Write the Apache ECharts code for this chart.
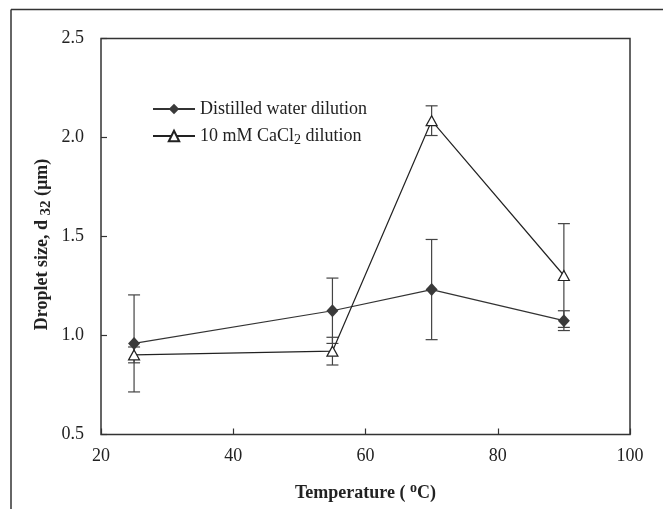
<!DOCTYPE html>
<html>
<head>
<meta charset="utf-8">
<script src="https://cdn.jsdelivr.net/npm/echarts@6/dist/echarts.min.js"></script>
<style>html,body{margin:0;padding:0;background:#fff}#c{width:663px;height:509px}</style>
</head>
<body>
<div id="c"></div>
<script>
var temperatures = [25, 55, 70, 90];
var distilledValues = [0.96, 1.125, 1.232, 1.075];
var distilledErrors = [0.245, 0.165, 0.253, 0.05];
var cacl2Values = [0.902, 0.921, 2.085, 1.303];
var cacl2Errors = [0.04, 0.07, 0.075, 0.262];
var xTicks = [20, 40, 60, 80, 100];
var yTicks = [0.5, 1.0, 1.5, 2.0, 2.5];
var seriesNames = ['Distilled water dilution', '10 mM CaCl2 dilution'];

var FONT = 'Liberation Serif';
var chart = echarts.init(document.getElementById('c'));

function pairs(xs, ys) { return xs.map(function (x, i) { return [x, ys[i]]; }); }
function errData(xs, ys, es) { return xs.map(function (x, i) { return [x, ys[i] - es[i], ys[i] + es[i]]; }); }

function errRender(params, api) {
  var x = api.value(0);
  var lo = api.coord([x, api.value(1)]);
  var hi = api.coord([x, api.value(2)]);
  var hw = 6;
  var st = { stroke: '#444', lineWidth: 1.2 };
  return {
    type: 'group',
    children: [
      { type: 'line', shape: { x1: lo[0], y1: lo[1], x2: hi[0], y2: hi[1] }, style: st },
      { type: 'line', shape: { x1: lo[0] - hw, y1: lo[1], x2: lo[0] + hw, y2: lo[1] }, style: st },
      { type: 'line', shape: { x1: hi[0] - hw, y1: hi[1], x2: hi[0] + hw, y2: hi[1] }, style: st }
    ]
  };
}

chart.setOption({
  animation: false,
  backgroundColor: '#fff',
  graphic: [
    { type: 'line', shape: { x1: 11, y1: 9.5, x2: 663, y2: 9.5 }, style: { stroke: '#333', lineWidth: 1.5 } },
    { type: 'line', shape: { x1: 11, y1: 9.5, x2: 11, y2: 509 }, style: { stroke: '#333', lineWidth: 1.5 } }
  ],
  grid: { left: 101, right: 33, top: 38.5, bottom: 74.5, show: true, borderColor: '#333', borderWidth: 1.5, backgroundColor: 'transparent' },
  legend: {
    left: 147, top: 95, orient: 'vertical', itemWidth: 42, itemHeight: 13, itemGap: 9,
    data: seriesNames,
    textStyle: { fontFamily: FONT, fontSize: 18, color: '#222', rich: { sub: { fontFamily: FONT, fontSize: 14, padding: [8, 0, 0, 0], color: '#222' } } },
    formatter: function (n) { return n === seriesNames[1] ? '10 mM CaCl{sub|2} dilution' : n; }
  },
  xAxis: {
    type: 'value', min: xTicks[0], max: xTicks[xTicks.length - 1], interval: 20,
    splitLine: { show: false },
    axisLine: { show: false },
    axisTick: { show: true, inside: true, length: 6, lineStyle: { color: '#333', width: 1.2 } },
    axisLabel: { fontFamily: FONT, fontSize: 18, color: '#222', margin: 13 },
    name: 'Temperature ( {sup|o}C)', nameLocation: 'middle', nameGap: 47,
    nameTextStyle: { fontFamily: FONT, fontSize: 18, fontWeight: 'bold', color: '#222',
      rich: { sup: { fontFamily: FONT, fontSize: 14, fontWeight: 'bold', padding: [0, 0, 9, 0], color: '#222' } } }
  },
  yAxis: {
    type: 'value', min: yTicks[0], max: yTicks[yTicks.length - 1], interval: 0.5,
    splitLine: { show: false },
    axisLine: { show: false },
    axisTick: { show: true, inside: true, length: 6, lineStyle: { color: '#333', width: 1.2 } },
    axisLabel: { fontFamily: FONT, fontSize: 18, color: '#222', margin: 17, formatter: function (v) { return v.toFixed(1); } },
    name: 'Droplet size, d {sub|32} (µm)', nameLocation: 'middle', nameGap: 47, nameMoveOverlap: false,
    nameTextStyle: { fontFamily: FONT, fontSize: 18, fontWeight: 'bold', color: '#222', padding: [0, 16, 0, 0],
      rich: { sub: { fontFamily: FONT, fontSize: 15, fontWeight: 'bold', padding: [8, 0, 0, 0], color: '#222' } } }
  },
  series: [
    { type: 'custom', name: 'errD', renderItem: errRender, data: errData(temperatures, distilledValues, distilledErrors), z: 1, silent: true },
    { type: 'custom', name: 'errC', renderItem: errRender, data: errData(temperatures, cacl2Values, cacl2Errors), z: 1, silent: true },
    { type: 'line', name: seriesNames[0], data: pairs(temperatures, distilledValues), symbol: 'diamond', symbolSize: [12, 13],
      lineStyle: { color: '#333', width: 1.2 }, itemStyle: { color: '#3a3a3a', borderColor: '#3a3a3a', borderWidth: 0 }, z: 3 },
    { type: 'line', name: seriesNames[1], data: pairs(temperatures, cacl2Values), symbol: 'triangle', symbolSize: [11, 10],
      lineStyle: { color: '#222', width: 1.2 }, itemStyle: { color: '#fff', borderColor: '#222', borderWidth: 1.2 }, z: 4 }
  ]
});
</script>
</body>
</html>
